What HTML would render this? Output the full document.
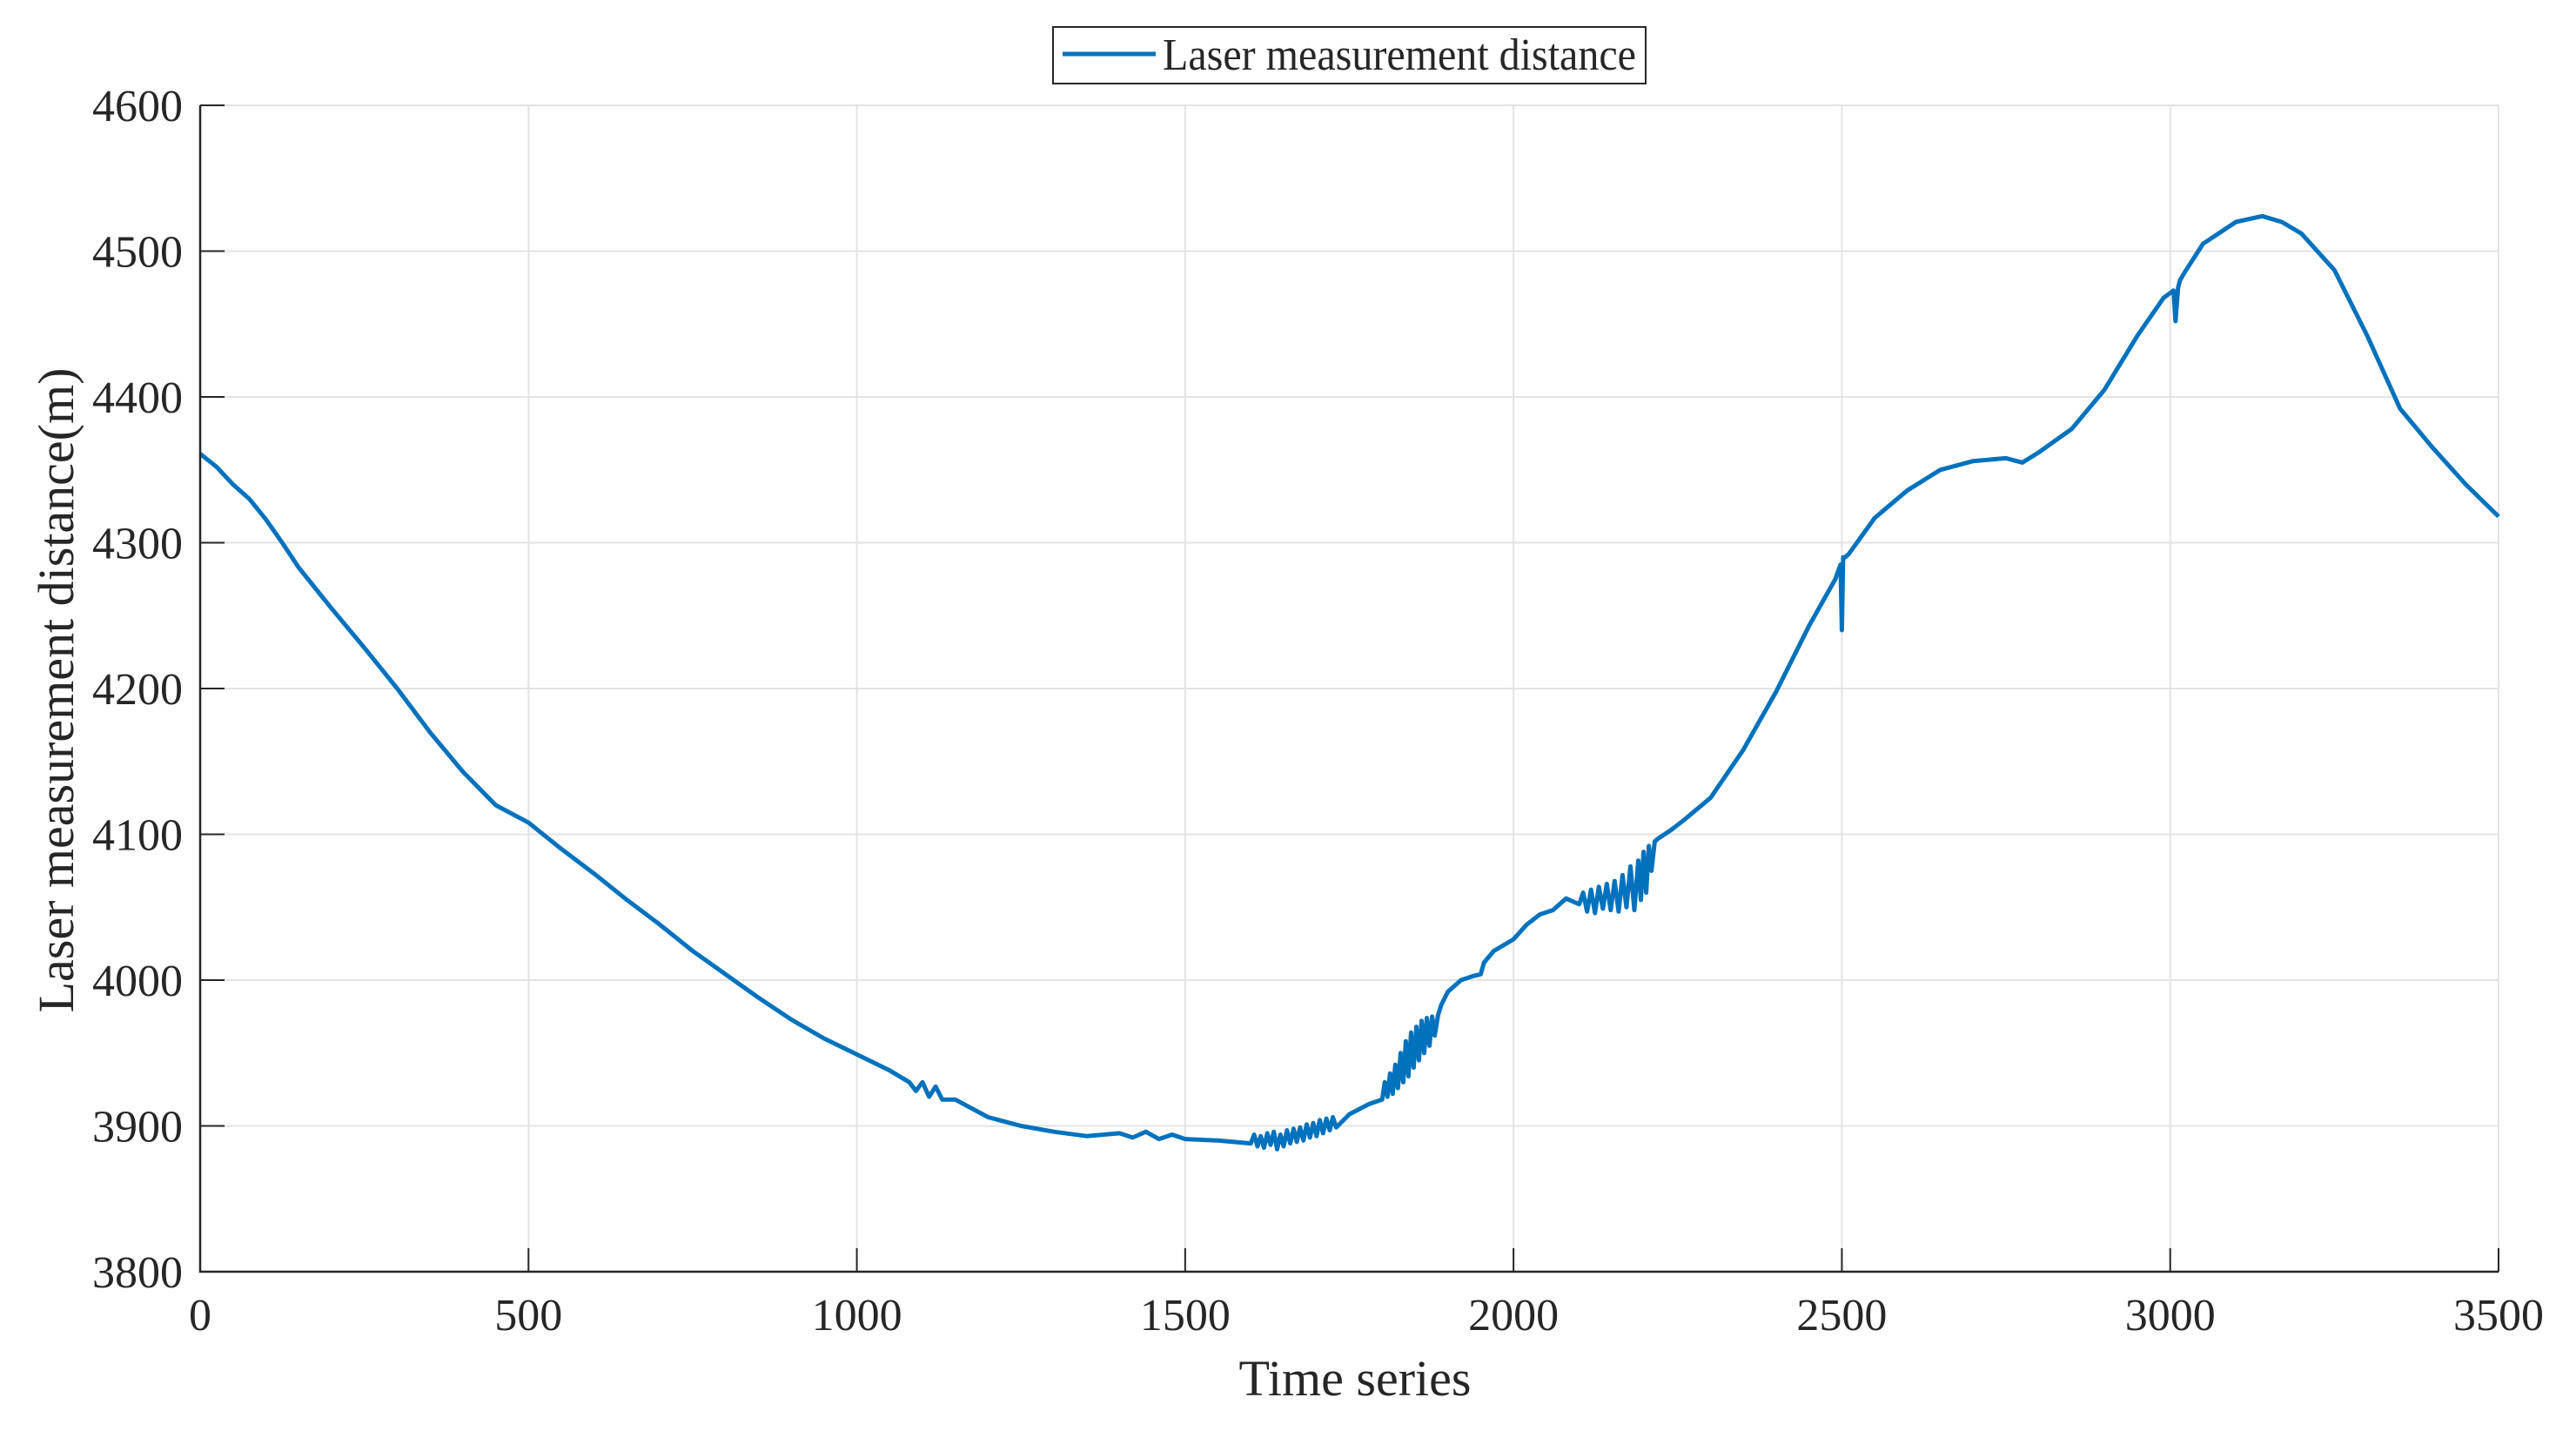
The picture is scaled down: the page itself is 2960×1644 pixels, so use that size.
<!DOCTYPE html>
<html><head><meta charset="utf-8">
<style>
html,body{margin:0;padding:0;background:#fff;}
svg{display:block;}
text{font-family:"Liberation Serif",serif;fill:#262626;}
</style></head>
<body>
<svg id="chart" width="2960" height="1644" viewBox="0 0 2960 1644" xmlns="http://www.w3.org/2000/svg">
<g id="grid"></g>
<g id="series"></g>
<g id="axes"></g>
<text x="1557" y="1603" font-size="58" text-anchor="middle">Time series</text>
<text x="0" y="0" font-size="58" text-anchor="middle" transform="translate(84,793) rotate(-90)">Laser measurement distance(m)</text>
<g>
<rect x="1210" y="31" width="681" height="65" fill="#fff" stroke="#262626" stroke-width="2"/>
<line x1="1221" y1="62" x2="1328" y2="62" stroke="#0072BD" stroke-width="5"/>
<text x="1336" y="80" font-size="52" textLength="544" lengthAdjust="spacingAndGlyphs" fill="#000">Laser measurement distance</text>
</g>
</svg>
<script>
const xs = [0,25,50,75,100,125,150,200,250,300,350,400,450,500,550,600,650,700,750,800,850,900,950,1000,1050,1080,1090,1100,1110,1120,1130,1150,1200,1250,1300,1350,1400,1420,1440,1460,1480,1500,1550,
1600,1605,1610,1615,1620,1625,1630,1635,1640,1645,1650,1655,1660,1665,1670,1675,1680,1685,1690,1695,1700,1705,1710,1715,1720,1725,1730,
1750,1780,1800,
1804,1808,1812,1816,1820,1824,1828,1832,1836,1840,1844,1848,1852,1856,1860,1864,1868,1872,1876,1880,
1885,1890,1900,1920,1940,1950,1955,1970,2000,2020,2040,2060,2080,2100,
2106,2112,2118,2124,2130,2136,2142,2148,2154,2160,2166,2172,2178,2184,2190,
2194,2198,2202,2206,2210,
2215,2220,2240,2260,2300,2350,2400,2450,2490,2498,2500,2502,2505,2510,
2550,2600,2650,2700,2750,2775,2800,2850,2900,2950,2990,3005,3008,3012,3015,3020,3050,3100,3140,3170,3200,3250,3300,3350,3400,3450,3500];
const ys = [4361,4352,4340,4330,4316,4300,4283,4255,4228,4200,4170,4143,4120,4108,4090,4073,4055,4038,4020,4004,3988,3973,3960,3949,3938,3930,3924,3930,3920,3927,3918,3918,3906,3900,3896,3893,3895,3892,3896,3891,3894,3891,3890,
3888,3894,3886,3893,3885,3895,3887,3896,3884,3894,3886,3897,3888,3898,3889,3899,3890,3901,3892,3902,3893,3904,3895,3905,3897,3906,3899,
3908,3915,3918,
3930,3920,3936,3922,3942,3926,3950,3930,3958,3934,3964,3940,3968,3945,3972,3950,3974,3955,3975,3962,
3976,3983,3992,4000,4003,4004,4012,4020,4028,4038,4045,4048,4056,4052,
4060,4047,4062,4046,4064,4049,4066,4048,4068,4047,4072,4050,4078,4048,4082,
4055,4088,4060,4092,4075,
4095,4097,4103,4110,4125,4158,4198,4243,4275,4285,4240,4290,4290,4292,
4317,4336,4350,4356,4358,4355,4362,4378,4405,4442,4468,4473,4452,4475,4480,4484,4505,4520,4524,4520,4512,4487,4442,4392,4365,4340,4318];
const xTicks = [0,500,1000,1500,2000,2500,3000,3500];
const yTicks = [3800,3900,4000,4100,4200,4300,4400,4500,4600];
const xTickLabels = ["0","500","1000","1500","2000","2500","3000","3500"];
const yTickLabels = ["3800","3900","4000","4100","4200","4300","4400","4500","4600"];

const L=230,R=2871,T=121,B=1461;
const xMin=0,xMax=3500,yMin=3800,yMax=4600;
const sx=v=>L+(v-xMin)/(xMax-xMin)*(R-L);
const sy=v=>B-(v-yMin)/(yMax-yMin)*(B-T);
const NS='http://www.w3.org/2000/svg';
function mk(tag,attrs,parent){const e=document.createElementNS(NS,tag);for(const k in attrs)e.setAttribute(k,attrs[k]);parent.appendChild(e);return e;}
const grid=document.getElementById('grid'),axes=document.getElementById('axes'),series=document.getElementById('series');
xTicks.forEach((t,i)=>{
  const g=mk('line',{x1:sx(t),x2:sx(t),y1:T,y2:B,stroke:'#e3e3e3','stroke-width':2},grid);
  
  
  const tk=mk('line',{x1:sx(t),x2:sx(t),y1:B,y2:B-27,stroke:'#262626','stroke-width':2},axes);
  
  
  const lb=mk('text',{x:sx(t),y:1528,'font-size':52,'text-anchor':'middle'},axes);
  lb.textContent=xTickLabels[i];
  
  
});
yTicks.forEach((t,i)=>{
  const g=mk('line',{x1:L,x2:R,y1:sy(t),y2:sy(t),stroke:'#e3e3e3','stroke-width':2},grid);
  
  
  const tk=mk('line',{x1:L,x2:L+28,y1:sy(t),y2:sy(t),stroke:'#262626','stroke-width':2},axes);
  
  
  const lb=mk('text',{x:210,y:sy(t)+18,'font-size':52,'text-anchor':'end'},axes);
  lb.textContent=yTickLabels[i];
  
  
});
const ax=mk('path',{d:`M${L},${T} L${L},${B} L${R},${B}`,fill:'none',stroke:'#262626','stroke-width':2.5},axes);


const d=xs.map((x,i)=>(i?'L':'M')+sx(x).toFixed(1)+','+sy(ys[i]).toFixed(1)).join(' ');
const ln=mk('path',{d:d,fill:'none',stroke:'#0072BD','stroke-width':5,'stroke-linejoin':'round'},series);


</script>
</body></html>
